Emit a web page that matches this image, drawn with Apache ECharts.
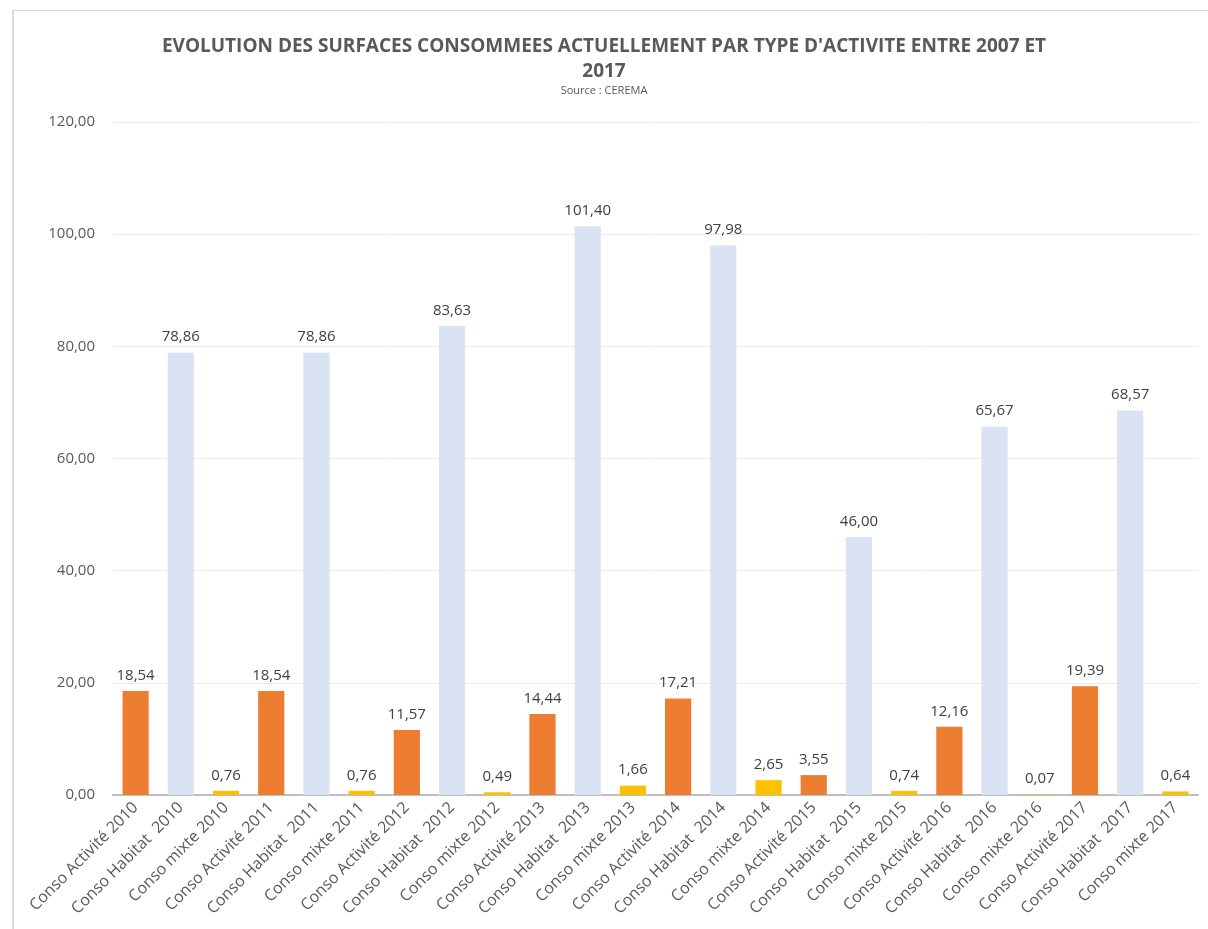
<!DOCTYPE html>
<html><head><meta charset="utf-8">
<script src="https://cdn.jsdelivr.net/npm/echarts@6/dist/echarts.min.js"></script>
<style>
html,body{margin:0;padding:0;background:#fff;}
#frame{position:absolute;left:12px;top:10px;width:1300px;height:1000px;border-left:2px solid #D9D9D9;border-top:1px solid #D9D9D9;}
#c{position:absolute;left:0;top:0;width:1208px;height:929px;}
</style></head>
<body>
<div id="frame"></div>
<div id="c"></div>
<script>
const categories = [
 "Conso Activité 2010","Conso Habitat  2010","Conso mixte 2010",
 "Conso Activité 2011","Conso Habitat  2011","Conso mixte 2011",
 "Conso Activité 2012","Conso Habitat  2012","Conso mixte 2012",
 "Conso Activité 2013","Conso Habitat  2013","Conso mixte 2013",
 "Conso Activité 2014","Conso Habitat  2014","Conso mixte 2014",
 "Conso Activité 2015","Conso Habitat  2015","Conso mixte 2015",
 "Conso Activité 2016","Conso Habitat  2016","Conso mixte 2016",
 "Conso Activité 2017","Conso Habitat  2017","Conso mixte 2017"
];
const values = [18.54,78.86,0.76, 18.54,78.86,0.76, 11.57,83.63,0.49, 14.44,101.40,1.66,
 17.21,97.98,2.65, 3.55,46.00,0.74, 12.16,65.67,0.07, 19.39,68.57,0.64];
const typeColors = {"Activité":"#ED7D31","Habitat":"#DAE3F3","mixte":"#FFC000"};
const yTicks = {min:0,max:120,interval:20};

const fmt = v => v.toFixed(2).replace('.', ',');
const chart = echarts.init(document.getElementById('c'));
chart.setOption({
  animation:false,
  backgroundColor:'transparent',
  title:{
    text:"EVOLUTION DES SURFACES CONSOMMEES ACTUELLEMENT PAR TYPE D'ACTIVITE ENTRE 2007 ET\n2017",
    subtext:"Source : CEREMA",
    left:'center', top:29, itemGap:1,
    textStyle:{fontFamily:'Liberation Sans Narrow, Open Sans',fontWeight:'bold',fontSize:19,color:'#595959',lineHeight:25},
    subtextStyle:{fontFamily:'Open Sans',fontSize:11,color:'#595959'}
  },
  grid:{left:113,right:10,top:122,bottom:134},
  xAxis:{
    type:'category',data:categories,
    axisLine:{lineStyle:{color:'#BFBFBF',width:2}},
    axisTick:{show:false},
    axisLabel:{interval:0,rotate:45,fontFamily:'Open Sans',fontSize:16,color:'#595959',margin:10}
  },
  yAxis:{
    type:'value',min:yTicks.min,max:yTicks.max,interval:yTicks.interval,
    axisLine:{show:false},axisTick:{show:false},
    splitLine:{lineStyle:{color:'#EBEBEB',width:1}},
    axisLabel:{formatter:fmt,fontFamily:'Open Sans',fontSize:15,color:'#595959',margin:18}
  },
  series:[{
    type:'bar',barCategoryGap:'42%',
    data:values.map((v,i)=>{
      const t = categories[i].split(/\s+/)[1];
      return {value:v,itemStyle:{color:typeColors[t]}};
    }),
    label:{show:true,position:'top',formatter:p=>fmt(p.value),fontFamily:'Open Sans',fontSize:15,color:'#404040',distance:8}
  }]
});
</script>
</body></html>
